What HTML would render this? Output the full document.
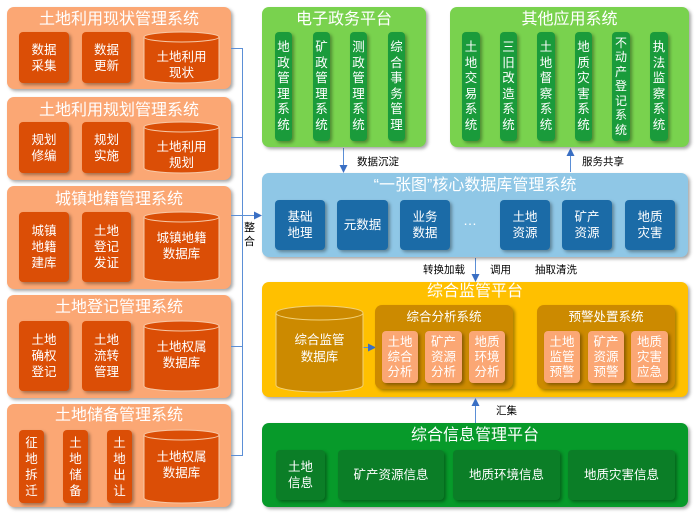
<!DOCTYPE html>
<html><head><meta charset="utf-8"><style>
*{margin:0;padding:0;box-sizing:border-box}
body{width:695px;height:519px;background:#fff;position:relative;overflow:hidden;font-family:"Liberation Sans","Noto Sans CJK SC",sans-serif}
.a{position:absolute}
.p{position:absolute;border-radius:7px;box-shadow:2px 2px 3px rgba(0,0,0,.35)}
.t{position:absolute;left:0;right:0;text-align:center;color:#fff;font-size:16px;line-height:18px}
.b{position:absolute;border-radius:4px;color:#fff;display:flex;align-items:center;justify-content:center;text-align:center;font-size:12.5px;line-height:16px;box-shadow:2px 2px 3px rgba(0,0,0,.35)}
.or{background:#FBA774}
.ob{background:#DB4E06}
.v{font-size:12.5px;line-height:15.5px}
.lbl{position:absolute;font-size:10.5px;color:#000;line-height:12px}
</style></head><body>

<div class="p or" style="left:7px;top:7px;width:224px;height:82px"><div class="t" style="top:4px">土地利用现状管理系统</div></div>
<div class="b ob" style="left:19px;top:32px;width:50px;height:51px">数据<br>采集</div>
<div class="b ob" style="left:82px;top:32px;width:49px;height:51px">数据<br>更新</div>

<div class="p or" style="left:7px;top:97px;width:224px;height:83px"><div class="t" style="top:5px">土地利用规划管理系统</div></div>
<div class="b ob" style="left:19px;top:122px;width:50px;height:51px">规划<br>修编</div>
<div class="b ob" style="left:82px;top:122px;width:49px;height:51px">规划<br>实施</div>

<div class="p or" style="left:7px;top:186px;width:224px;height:103px"><div class="t" style="top:5px">城镇地籍管理系统</div></div>
<div class="b ob" style="left:19px;top:212px;width:50px;height:70px">城镇<br>地籍<br>建库</div>
<div class="b ob" style="left:82px;top:212px;width:49px;height:70px">土地<br>登记<br>发证</div>

<div class="p or" style="left:7px;top:295px;width:224px;height:103px"><div class="t" style="top:4px">土地登记管理系统</div></div>
<div class="b ob" style="left:19px;top:321px;width:50px;height:70px">土地<br>确权<br>登记</div>
<div class="b ob" style="left:82px;top:321px;width:49px;height:70px">土地<br>流转<br>管理</div>

<div class="p or" style="left:7px;top:404px;width:224px;height:103px"><div class="t" style="top:3px">土地储备管理系统</div></div>
<div class="b ob" style="left:19px;top:430px;width:25px;height:73px">征<br>地<br>拆<br>迁</div>
<div class="b ob" style="left:63px;top:430px;width:25px;height:73px">土<br>地<br>储<br>备</div>
<div class="b ob" style="left:107px;top:430px;width:25px;height:73px">土<br>地<br>出<br>让</div>

<svg class="a" style="left:0;top:0" width="695" height="519">
<defs>
<marker id="ar" markerWidth="8" markerHeight="8" refX="7" refY="4" orient="auto" markerUnits="userSpaceOnUse"><path d="M0,0 L8,4 L0,8 z" fill="#3A6FC4"/></marker>
</defs>
<g fill="#DB4E06" stroke="#F7C9A8" stroke-width="1">
<path d="M144,37 v41 a37.5,5 0 0 0 75,0 v-41"/><ellipse cx="181.5" cy="37" rx="37.5" ry="5"/>
<path d="M144,127 v41 a37.5,5 0 0 0 75,0 v-41"/><ellipse cx="181.5" cy="127" rx="37.5" ry="5"/>
<path d="M144,217 v60 a37.5,5 0 0 0 75,0 v-60"/><ellipse cx="181.5" cy="217" rx="37.5" ry="5"/>
<path d="M144,326 v60 a37.5,5 0 0 0 75,0 v-60"/><ellipse cx="181.5" cy="326" rx="37.5" ry="5"/>
<path d="M144,435 v63 a37.5,5 0 0 0 75,0 v-63"/><ellipse cx="181.5" cy="435" rx="37.5" ry="5"/>
</g>
<g stroke="#5B8FD6" stroke-width="1" fill="none">
<path d="M231,48.5 H242.5 V455.5 H231"/>
<path d="M231,137.5 H242.5 M231,215.5 H242.5 M231,346.5 H242.5"/>
<path d="M242.5,215.5 H261" marker-end="url(#ar)"/>
<path d="M343.5,148 V172" marker-end="url(#ar)"/>
<path d="M570.5,172 V149" marker-end="url(#ar)"/>
<path d="M475.5,258 V281" marker-end="url(#ar)"/>
<path d="M475.5,423 V399" marker-end="url(#ar)"/>
<path d="M363,347.5 H375" marker-end="url(#ar)"/>
</g>
<g fill="#CC8A00" stroke="#F2D27A" stroke-width="1">
<path d="M276,313 v72 a43.5,7 0 0 0 87,0 v-72"/><ellipse cx="319.5" cy="313" rx="43.5" ry="7"/>
</g>
</svg>
<div class="a" style="left:144px;top:49px;width:75px;text-align:center;color:#fff;font-size:12.5px;line-height:16px">土地利用<br>现状</div>
<div class="a" style="left:144px;top:139px;width:75px;text-align:center;color:#fff;font-size:12.5px;line-height:16px">土地利用<br>规划</div>
<div class="a" style="left:144px;top:230px;width:75px;text-align:center;color:#fff;font-size:12.5px;line-height:16px">城镇地籍<br>数据库</div>
<div class="a" style="left:144px;top:339px;width:75px;text-align:center;color:#fff;font-size:12.5px;line-height:16px">土地权属<br>数据库</div>
<div class="a" style="left:144px;top:449px;width:75px;text-align:center;color:#fff;font-size:12.5px;line-height:16px">土地权属<br>数据库</div>
<div class="lbl" style="left:244px;top:221px;font-size:11px;line-height:14px">整<br>合</div>

<div class="p" style="left:262px;top:7px;width:164px;height:140px;background:#79D24E"><div class="t" style="top:4px">电子政务平台</div></div>
<div class="b v" style="left:275px;top:32px;width:17px;height:109px;background:#1A9B3B">地<br>政<br>管<br>理<br>系<br>统</div>
<div class="b v" style="left:313px;top:32px;width:17px;height:109px;background:#1A9B3B">矿<br>政<br>管<br>理<br>系<br>统</div>
<div class="b v" style="left:350px;top:32px;width:17px;height:109px;background:#1A9B3B">测<br>政<br>管<br>理<br>系<br>统</div>
<div class="b v" style="left:388px;top:32px;width:17px;height:109px;background:#1A9B3B">综<br>合<br>事<br>务<br>管<br>理</div>

<div class="p" style="left:450px;top:7px;width:239px;height:140px;background:#79D24E"><div class="t" style="top:4px">其他应用系统</div></div>
<div class="b v" style="left:462px;top:32px;width:18px;height:109px;background:#1A9B3B">土<br>地<br>交<br>易<br>系<br>统</div>
<div class="b v" style="left:500px;top:32px;width:17px;height:109px;background:#1A9B3B">三<br>旧<br>改<br>造<br>系<br>统</div>
<div class="b v" style="left:537px;top:32px;width:18px;height:109px;background:#1A9B3B">土<br>地<br>督<br>察<br>系<br>统</div>
<div class="b v" style="left:575px;top:32px;width:17px;height:109px;background:#1A9B3B">地<br>质<br>灾<br>害<br>系<br>统</div>
<div class="b v" style="left:612px;top:32px;width:18px;height:109px;background:#1A9B3B;font-size:12px;line-height:14.5px">不<br>动<br>产<br>登<br>记<br>系<br>统</div>
<div class="b v" style="left:650px;top:32px;width:18px;height:109px;background:#1A9B3B">执<br>法<br>监<br>察<br>系<br>统</div>

<div class="lbl" style="left:357px;top:156px">数据沉淀</div>
<div class="lbl" style="left:582px;top:156px">服务共享</div>

<div class="p" style="left:262px;top:173px;width:426px;height:84px;background:#8FC7E6"><div class="t" style="top:4px">“一张图”核心数据库管理系统</div></div>
<div class="b" style="left:275px;top:200px;width:50px;height:50px;background:#1B6BA7">基础<br>地理</div>
<div class="b" style="left:337px;top:200px;width:51px;height:50px;background:#1B6BA7">元数据</div>
<div class="b" style="left:400px;top:200px;width:50px;height:50px;background:#1B6BA7">业务<br>数据</div>
<div class="a" style="left:463px;top:212px;color:#fff;font-size:14px">…</div>
<div class="b" style="left:500px;top:200px;width:50px;height:50px;background:#1B6BA7">土地<br>资源</div>
<div class="b" style="left:562px;top:200px;width:50px;height:50px;background:#1B6BA7">矿产<br>资源</div>
<div class="b" style="left:625px;top:200px;width:50px;height:50px;background:#1B6BA7">地质<br>灾害</div>

<div class="lbl" style="left:423px;top:264px">转换加载</div>
<div class="lbl" style="left:490px;top:264px">调用</div>
<div class="lbl" style="left:535px;top:264px">抽取清洗</div>

<div class="p" style="left:262px;top:282px;width:426px;height:115px;background:#FFC000;z-index:-1"><div class="t" style="top:1px">综合监管平台</div></div>
<div class="a" style="left:276px;top:332px;width:87px;text-align:center;color:#fff;font-size:12.5px;line-height:17px">综合监管<br>数据库</div>
<div class="p" style="left:375px;top:305px;width:138px;height:84px;background:#CC8A00"><div class="t" style="top:3px;font-size:12.5px">综合分析系统</div></div>
<div class="b" style="left:382px;top:331px;width:36px;height:52px;background:#FBA774;line-height:15px">土地<br>综合<br>分析</div>
<div class="b" style="left:425px;top:331px;width:37px;height:52px;background:#FBA774;line-height:15px">矿产<br>资源<br>分析</div>
<div class="b" style="left:469px;top:331px;width:36px;height:52px;background:#FBA774;line-height:15px">地质<br>环境<br>分析</div>
<div class="p" style="left:537px;top:305px;width:138px;height:84px;background:#CC8A00"><div class="t" style="top:3px;font-size:12.5px">预警处置系统</div></div>
<div class="b" style="left:544px;top:331px;width:36px;height:52px;background:#FBA774;line-height:15px">土地<br>监管<br>预警</div>
<div class="b" style="left:588px;top:331px;width:36px;height:52px;background:#FBA774;line-height:15px">矿产<br>资源<br>预警</div>
<div class="b" style="left:631px;top:331px;width:37px;height:52px;background:#FBA774;line-height:15px">地质<br>灾害<br>应急</div>

<div class="lbl" style="left:496px;top:405px">汇集</div>

<div class="p" style="left:262px;top:423px;width:426px;height:84px;background:#079A2A"><div class="t" style="top:4px">综合信息管理平台</div></div>
<div class="b" style="left:276px;top:450px;width:49px;height:50px;background:#0B7E27">土地<br>信息</div>
<div class="b" style="left:338px;top:450px;width:106px;height:50px;background:#0B7E27">矿产资源信息</div>
<div class="b" style="left:453px;top:450px;width:107px;height:50px;background:#0B7E27">地质环境信息</div>
<div class="b" style="left:568px;top:450px;width:107px;height:50px;background:#0B7E27">地质灾害信息</div>
</body></html>
